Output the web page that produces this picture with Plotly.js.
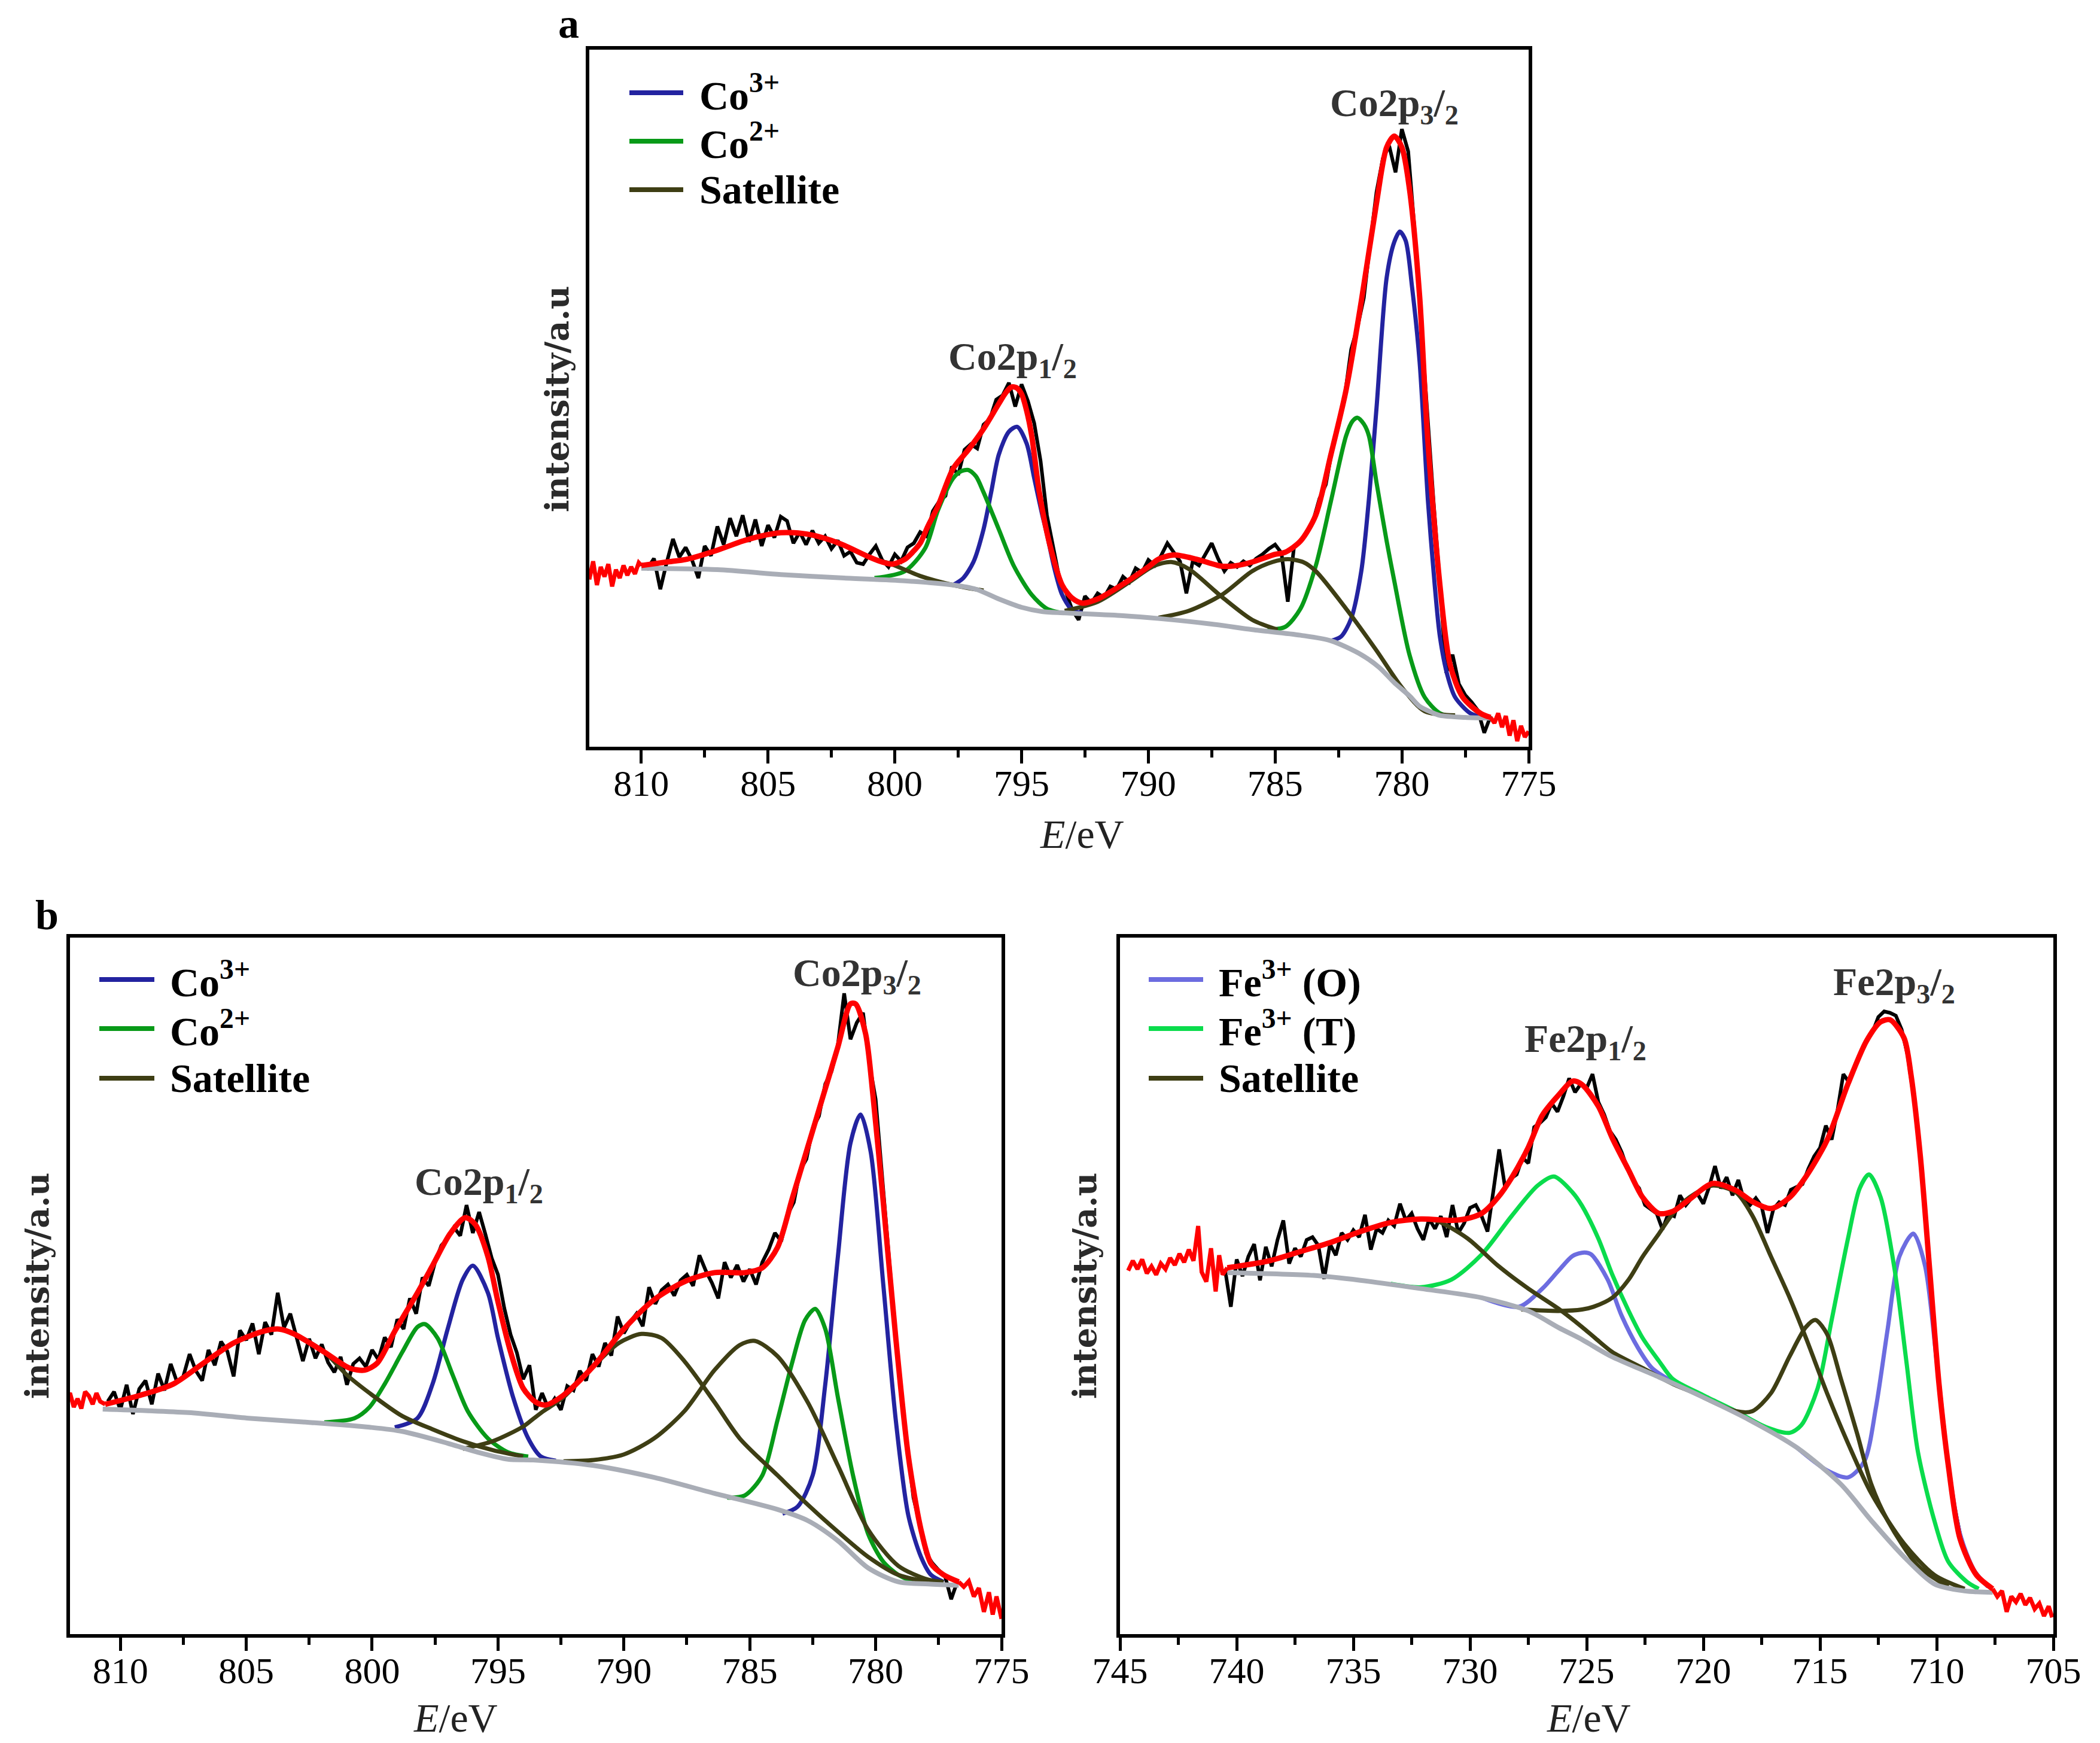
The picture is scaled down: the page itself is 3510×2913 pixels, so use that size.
<!DOCTYPE html>
<html><head><meta charset="utf-8">
<script src="https://cdn.plot.ly/plotly-3.0.1.min.js"></script>
<style>html,body{margin:0;padding:0;background:#fff}#chart{width:3510px;height:2913px}</style>
</head><body><div id="chart"></div>
<script>
// ================= DATA =================
// ---- Panel a : Co 2p ----
const aTicks = [810, 805, 800, 795, 790, 785, 780, 775];
const aTickText = ['810', '805', '800', '795', '790', '785', '780', '775'];
const aDataStart = 810.0, aDataStep = 0.25;
const aData = [26.2, 25.6, 27.0, 22.6, 26.4, 29.8, 27.2, 28.6, 26.8, 24.2,
  28.8, 27.4, 31.6, 29.0, 32.8, 30.2, 33.2, 29.4, 32.6, 28.8,
  31.8, 30.0, 33.0, 32.4, 29.2, 30.8, 29.0, 31.0, 29.2, 30.2,
  28.4, 29.6, 27.4, 28.0, 26.4, 26.2, 27.6, 28.8, 26.8, 25.8,
  27.6, 26.6, 28.6, 29.2, 30.8, 30.2, 33.8, 35.2, 36.0, 40.2,
  39.0, 42.6, 43.4, 42.8, 46.2, 47.0, 49.8, 50.4, 52.2, 48.8,
  52.0, 49.6, 46.4, 41.0, 33.2, 28.4, 24.0, 22.2, 19.6, 18.2,
  21.6, 20.6, 22.0, 21.4, 23.0, 22.6, 24.4, 23.6, 25.6, 25.0,
  26.8, 26.0, 27.4, 29.2, 27.8, 26.6, 22.0, 26.6, 26.0, 27.6,
  29.2, 27.0, 25.2, 26.4, 25.8, 26.6, 26.0, 27.0, 27.6, 28.4,
  29.0, 27.8, 20.8, 28.8, 29.4, 30.8, 32.4, 35.6, 37.6, 42.6,
  46.0, 50.4, 57.0, 60.2, 64.4, 72.2, 79.6, 84.4, 86.2, 82.4,
  88.6, 85.4, 74.2, 61.0, 47.4, 35.2, 23.4, 10.6, 13.2, 9.0,
  7.4, 6.4, 5.2, 2.0, 4.4];
const aRedLeftE = [812.05, 811.9, 811.75, 811.6, 811.45, 811.3, 811.15, 811.0, 810.85, 810.7, 810.55, 810.4, 810.25, 810.1, 810.0];
const aRedLeftI = [24.0, 26.6, 23.2, 25.8, 24.4, 26.2, 23.0, 25.4, 24.2, 26.0, 24.6, 25.8, 24.8, 26.4, 26.0];
const aRedRightE = [776.5, 776.35, 776.2, 776.05, 775.9, 775.75, 775.6, 775.45, 775.3, 775.15, 775.0];
const aRedRightI = [4.2, 3.4, 4.8, 2.8, 4.4, 1.6, 3.8, 0.8, 3.0, 1.4, 2.2];
const aFitE = [810, 809, 808.2, 807, 806, 805.3, 804.5, 804, 803.3, 802.5, 802, 801, 800.5, 800.1, 799.6, 799.3, 799, 798.7, 798.3, 797.7, 797.1, 796.5, 795.9, 795.6, 795.4, 795.2, 795.0, 794.8, 794.6, 794.3, 793.9, 793.4, 793.0, 792.6, 792.0, 791.5, 790.8, 790, 789.6, 789.0, 788.1, 787.1, 786.5, 785.9, 785, 784.6, 784.0, 783.4, 782.8, 782.2, 781.6, 781.0, 780.6, 780.3, 780.0, 779.7, 779.3, 779.0, 778.5, 778.1, 777.6, 776.9, 776.5];
const aFitI = [26.0, 26.5, 26.9, 28.2, 29.5, 30.2, 30.7, 30.7, 30.4, 29.6, 28.9, 27.2, 26.5, 26.2, 26.9, 27.9, 29.2, 31.6, 34.5, 39.9, 42.6, 45.6, 49.2, 50.9, 51.6, 51.5, 50.6, 48.2, 44.6, 36.5, 29.2, 23.2, 21.3, 20.6, 21.2, 22.2, 23.8, 25.8, 26.9, 27.5, 26.9, 25.9, 26.0, 26.5, 27.6, 27.9, 29.5, 33.2, 41.9, 51.2, 63.9, 78.0, 86.0, 87.6, 86.0, 80.0, 64.6, 45.2, 23.2, 11.8, 7.1, 4.8, 4.2];
const aBgE = [810, 807, 804.5, 802, 799.6, 797.7, 796.8, 795.9, 795.0, 794.2, 793.3, 791.0, 789.6, 787.5, 785.9, 784.0, 782.8, 781.6, 780.9, 780.3, 779.7, 779.3, 778.8, 778.5, 777.5, 776.5];
const aBgI = [25.6, 25.4, 24.7, 24.2, 23.8, 23.2, 22.6, 21.2, 20.0, 19.4, 19.2, 18.8, 18.4, 17.6, 16.8, 16.0, 15.2, 13.2, 11.4, 9.2, 7.3, 5.8, 4.9, 4.5, 4.2, 4.1];
const aCo3E = [797.7, 797.3, 796.9, 796.5, 796.2, 795.9, 795.5, 795.17, 794.8, 794.5, 794.2, 794.0, 793.7, 793.4, 793.0, 792.6, null, 782.8, 782.4, 782.0, 781.6, 781.3, 781.0, 780.6, 780.3, 780.08, 779.85, 779.6, 779.3, 778.97, 778.7, 778.5, 778.2, 777.9, 777.3, 776.8];
const aCo3I = [23.2, 24.2, 26.5, 31.2, 36.5, 41.9, 45.2, 45.9, 43.5, 38.5, 33.5, 30.5, 25.5, 21.8, 19.6, 19.2, null, 15.2, 15.8, 18.4, 25.2, 35.5, 48.6, 67.3, 72.4, 73.9, 72.6, 66.0, 55.2, 35.2, 23.0, 15.8, 10.2, 7.1, 4.8, 4.2];
const aCo2E = [800.8, 799.6, 798.8, 798.3, 797.7, 797.4, 797.1, 796.8, 796.5, 795.9, 795.3, 794.6, 794.0, 793.4, null, 785.3, 784.6, 784.0, 783.4, 782.8, 782.2, 781.95, 781.75, 781.5, 781.3, 781.0, 780.6, 780.3, 779.7, 779.1, 778.5, 777.9];
const aCo2I = [24.2, 25.2, 28.5, 33.9, 38.5, 39.5, 39.7, 38.8, 36.5, 31.2, 25.9, 21.8, 19.8, 19.2, null, 16.8, 17.2, 19.8, 25.9, 35.2, 44.6, 46.7, 47.2, 46.3, 44.6, 37.9, 29.5, 23.8, 13.2, 7.1, 4.8, 4.3];
const aSatE = [810, 808.2, 807, 805.7, 804.5, 803.3, 802, 800.8, 800.2, 799, 797.7, 796.5, null, 793.3, 792, 790.8, 789.8, 789.1, 788.4, 787.1, 785.9, 784.9, null, 789.6, 788.4, 787.1, 785.9, 785.1, 784.5, 783.9, 783.4, 782.2, 781.0, 780.0, 779.1, 777.9];
const aSatI = [26.0, 26.9, 28.2, 29.9, 30.7, 30.4, 28.9, 26.9, 26.3, 24.5, 23.2, 22.4, null, 19.5, 20.8, 23.5, 25.9, 26.5, 25.5, 21.5, 18.2, 16.8, null, 18.5, 19.5, 21.8, 25.2, 26.5, 26.9, 26.5, 25.2, 19.8, 13.8, 8.5, 5.1, 4.5];

// ---- Panel b (left) : Co 2p ----
const bTicks = [810, 805, 800, 795, 790, 785, 780, 775];
const bTickText = ['810', '805', '800', '795', '790', '785', '780', '775'];
const bDataStart = 810.5, bDataStep = 0.25;
const bData = [33.4, 34.8, 32.2, 35.8, 31.6, 35.2, 36.4, 33.0, 37.4, 35.0,
  38.8, 36.2, 37.0, 40.2, 37.8, 36.4, 40.8, 38.6, 42.0, 40.6,
  37.0, 43.6, 42.2, 44.6, 40.2, 44.8, 43.0, 49.0, 44.0, 46.0,
  42.6, 39.2, 42.4, 39.6, 41.6, 39.0, 37.6, 39.8, 35.8, 38.8,
  39.6, 38.4, 40.8, 39.4, 42.6, 41.2, 45.2, 43.8, 48.2, 46.0,
  51.2, 50.0, 53.4, 55.8, 56.8, 58.4, 57.2, 61.6, 57.6, 60.6,
  57.4, 54.0, 51.6, 46.8, 43.0, 40.4, 36.6, 38.6, 32.2, 34.6,
  32.4, 33.8, 32.2, 35.6, 35.0, 37.8, 36.4, 40.2, 38.4, 41.8,
  40.0, 45.6, 43.2, 44.8, 46.0, 44.2, 49.8, 47.4, 49.4, 50.2,
  48.6, 50.8, 51.6, 50.0, 54.4, 52.2, 50.4, 48.2, 53.4, 51.2,
  53.0, 50.6, 52.4, 50.2, 53.4, 55.2, 57.6, 56.4, 60.2, 62.0,
  66.6, 68.2, 72.6, 74.4, 79.0, 80.8, 84.6, 92.0, 85.4, 87.8,
  89.2, 82.0, 76.8, 66.2, 54.4, 44.6, 35.0, 27.2, 19.6, 15.8,
  11.6, 10.2, 9.2, 8.4, 5.0, 7.6];
const bRedLeftE = [812.2, 812.0, 811.85, 811.7, 811.55, 811.4, 811.25, 811.1, 810.95, 810.8, 810.6];
const bRedLeftI = [33.6, 34.6, 32.6, 33.8, 32.4, 34.8, 34.2, 33.0, 34.6, 33.4, 33.0];
const bRedRightE = [776.7, 776.5, 776.3, 776.1, 775.9, 775.7, 775.5, 775.35, 775.2, 775.0];
const bRedRightI = [7.5, 6.8, 7.6, 5.4, 6.6, 3.2, 6.0, 2.8, 5.4, 2.2];
const bFitE = [810.6, 809.2, 807.9, 806.7, 805.5, 804.3, 803.7, 803.1, 801.9, 800.9, 800.3, 799.8, 799.1, 798.2, 797.6, 796.9, 796.3, 795.9, 795.4, 795.0, 794.5, 794.0, 793.5, 793.1, 792.4, 791.2, 790.0, 788.8, 787.6, 786.4, 785.2, 784.5, 783.9, 783.3, 782.7, 782.1, 781.5, 781.0, 780.8, 780.4, 780.1, 779.7, 779.2, 778.7, 778.2, 777.8, 777.3, 776.7];
const bFitI = [33.0, 34.3, 35.9, 38.9, 41.8, 43.5, 43.8, 43.1, 40.5, 38.2, 37.9, 38.9, 43.5, 49.0, 52.9, 57.5, 59.8, 58.8, 54.2, 47.7, 40.5, 35.3, 33.3, 32.9, 34.3, 38.5, 43.8, 48.0, 50.6, 51.9, 51.9, 52.6, 55.5, 62.7, 69.9, 77.1, 84.3, 90.5, 90.5, 86.2, 77.1, 62.1, 42.5, 25.5, 15.0, 10.1, 8.5, 7.5];
const bBgE = [810.7, 807.3, 804.9, 802.5, 800.1, 798.8, 797.0, 795.8, 794.6, 793.6, 791.2, 788.8, 786.4, 783.9, 782.7, 781.5, 780.3, 779.1, 777.9, 776.7];
const bBgI = [32.3, 31.8, 31.0, 30.4, 29.7, 29.1, 27.4, 26.1, 25.1, 25.0, 24.2, 22.5, 20.2, 17.9, 16.3, 13.4, 9.5, 7.5, 7.2, 7.0];
const bCo3E = [799.1, 798.2, 797.6, 797.0, 796.4, 796.0, 795.4, 795.0, 794.4, 793.8, 793.3, 792.7, null, 783.7, 783.1, 782.5, 782.0, 781.5, 781.0, 780.6, 780.2, 779.7, 779.2, 778.7, 778.2, 777.8, 777.3];
const bCo3I = [29.7, 31.0, 35.9, 43.8, 50.9, 52.9, 49.0, 42.5, 34.0, 28.1, 25.5, 24.9, null, 17.3, 18.3, 22.8, 35.9, 54.2, 70.5, 74.6, 69.3, 50.3, 30.7, 17.0, 11.1, 8.5, 7.5];
const bCo2E = [801.9, 800.7, 800.1, 799.5, 798.8, 798.2, 797.9, 797.4, 796.8, 796.2, 795.4, 794.6, 793.8, null, 785.9, 785.2, 784.5, 783.9, 783.3, 782.8, 782.4, 782.0, 781.5, 780.9, 780.3, 779.7, 779.1, 778.5];
const bCo2I = [30.4, 31.0, 32.6, 35.9, 40.5, 44.1, 44.5, 42.5, 37.2, 32.0, 28.1, 26.1, 25.5, null, 19.6, 19.9, 22.8, 30.7, 39.2, 45.1, 46.7, 43.8, 34.0, 22.8, 14.4, 10.4, 8.5, 7.5];
const bSatE = [810.6, 809.2, 807.9, 806.7, 805.5, 804.3, 803.7, 803.1, 801.9, 801.0, 800.1, 798.8, 797.6, 796.4, 795.2, 794.0, null,
  796.4, 795.2, 794.0, 793.6, 793.2, 792.4, 791.2, 790.2, 789.3, 788.5, 787.6, 786.4, 785.4, 783.9, 782.7, 781.5, 780.3, 779.1, 777.9, null,
  792.4, 791.2, 790.0, 788.8, 787.6, 786.4, 785.4, 784.8, 783.9, 782.7, 781.5, 780.3, 779.1, 777.9, 777.3];
const bSatI = [33.0, 34.3, 35.9, 38.9, 41.8, 43.5, 43.8, 43.1, 40.5, 37.2, 34.6, 31.3, 29.4, 27.7, 26.4, 25.5, null,
  26.6, 27.7, 29.8, 30.9, 32.0, 34.0, 38.5, 41.8, 43.1, 42.5, 39.2, 33.3, 28.1, 22.8, 18.6, 14.7, 11.1, 8.5, 7.5, null,
  24.8, 25.0, 25.8, 28.1, 32.0, 37.9, 41.5, 42.1, 39.9, 33.3, 24.2, 15.0, 9.8, 7.8, 7.5];

// ---- Panel b (right) : Fe 2p ----
const cTicks = [745, 740, 735, 730, 725, 720, 715, 710, 705];
const cTickText = ['745', '740', '735', '730', '725', '720', '715', '710', '705'];
const cDataStart = 740.5, cDataStep = 0.25;
const cData = [52.4, 47.0, 53.8, 51.4, 54.2, 56.0, 50.8, 55.6, 52.8, 56.6,
  59.4, 53.2, 55.4, 54.2, 56.6, 57.0, 55.8, 51.0, 56.0, 54.4,
  57.6, 56.6, 58.0, 57.0, 60.2, 55.2, 58.2, 57.6, 59.4, 58.6,
  61.8, 59.4, 60.4, 58.2, 56.6, 59.6, 58.2, 60.0, 57.0, 61.6,
  57.6, 59.0, 61.2, 61.6, 60.0, 57.8, 63.6, 69.6, 64.2, 65.4,
  66.0, 68.4, 67.6, 72.8, 73.4, 74.2, 76.2, 75.0, 77.2, 79.8,
  77.8, 79.0, 78.4, 80.4, 76.4, 74.6, 72.2, 71.0, 69.2, 66.8,
  65.0, 64.0, 61.6, 61.0, 60.4, 58.1, 60.4, 60.0, 63.0, 61.6,
  62.6, 63.2, 61.8, 64.2, 67.2, 64.0, 65.6, 63.0, 65.2, 62.2,
  61.6, 62.6, 61.4, 57.6, 61.0, 62.0, 61.6, 63.8, 64.2, 64.6,
  66.8, 68.6, 69.8, 73.0, 71.0, 75.2, 80.4, 79.2, 81.6, 83.4,
  85.2, 86.4, 88.6, 89.4, 89.2, 88.8, 86.8, 83.2, 77.4, 70.6,
  60.8, 49.2, 39.4, 31.2, 24.0, 18.6, 14.4, 11.6, 9.6, 8.4,
  7.6, 6.8];
const cRedLeftE = [744.65, 744.45, 744.25, 744.05, 743.85, 743.65, 743.45, 743.25, 743.05, 742.85, 742.65, 742.45, 742.25, 742.05, 741.85, 741.65, 741.5, 741.3, 741.1, 740.9, 740.75, 740.6, 740.4];
const cRedLeftI = [52.2, 53.6, 52.4, 53.8, 51.8, 52.8, 51.6, 53.2, 52.4, 54.0, 53.0, 54.6, 53.4, 55.2, 53.6, 58.6, 52.0, 50.6, 55.4, 49.2, 54.4, 51.6, 52.6];
const cRedRightE = [707.6, 707.4, 707.2, 707.0, 706.8, 706.6, 706.4, 706.2, 706.0, 705.8, 705.6, 705.4, 705.2, 705.05];
const cRedRightI = [6.5, 5.4, 6.2, 3.2, 5.4, 4.6, 5.8, 4.2, 5.2, 3.6, 4.4, 2.6, 4.0, 2.4];
const cFitE = [740.4, 738.6, 737.3, 736.0, 734.7, 733.4, 732.1, 730.8, 730.2, 729.5, 728.8, 728.2, 727.5, 726.9, 726.2, 725.6, 725.2, 724.5, 723.9, 723.2, 722.6, 721.9, 721.3, 720.6, 719.6, 718.6, 717.9, 717.1, 716.3, 715.6, 714.7, 713.8, 713.0, 712.4, 712.0, 711.4, 711.1, 710.7, 710.3, 709.9, 709.5, 709.0, 708.3, 707.6];
const cFitI = [52.6, 53.6, 54.9, 56.2, 57.8, 59.1, 59.6, 59.4, 59.6, 60.4, 62.7, 65.6, 69.9, 74.5, 77.4, 79.4, 78.9, 75.8, 71.2, 66.6, 62.7, 60.4, 60.7, 62.4, 64.7, 63.7, 62.1, 61.1, 62.7, 65.7, 70.9, 79.0, 85.2, 87.9, 88.2, 85.6, 80.3, 68.6, 52.3, 35.9, 24.2, 13.7, 8.5, 6.5];
const cBgE = [740.4, 736.7, 734.7, 732.1, 729.5, 727.5, 726.2, 725.2, 724.7, 723.9, 721.9, 720.0, 718.0, 716.0, 714.1, 712.8, 711.4, 710.1, 708.8, 707.6];
const cBgI = [51.9, 51.5, 50.8, 49.6, 48.3, 46.4, 44.0, 42.3, 41.3, 39.8, 36.9, 34.0, 30.7, 26.8, 21.5, 16.3, 11.1, 7.2, 6.2, 6.0];
const cFeOE = [729.5, 727.9, 726.9, 726.2, 725.6, 725.1, 724.8, 724.1, 723.5, 722.8, 722.2, 721.3, 720.0, null, 716.0, 714.7, 713.8, 713.1, 712.6, 712.1, 711.6, 711.0, 710.5, 710.0, 709.5, 709.0, 708.4, 707.8];
const cFeOI = [48.3, 47.0, 49.6, 52.2, 54.3, 54.8, 54.5, 50.9, 45.7, 41.1, 38.2, 36.2, 34.0, null, 26.8, 23.5, 22.5, 24.8, 32.6, 43.8, 54.2, 57.5, 52.9, 39.2, 24.2, 14.4, 9.2, 6.8];
const cFeTE = [733.4, 732.1, 730.8, 729.5, 728.2, 727.1, 726.4, 725.6, 725.2, 724.5, 723.9, 723.2, 722.6, 721.9, 721.3, 720.0, 718.6, 717.3, 716.3, 715.8, 715.1, 714.5, 713.8, 713.3, 712.9, 712.4, 711.8, 711.3, 710.8, 710.1, 709.5, 708.7, 708.2];
const cFeTI = [50.3, 49.8, 50.9, 54.5, 60.1, 64.4, 65.7, 63.4, 61.5, 56.8, 51.6, 46.4, 42.5, 39.2, 36.6, 34.3, 32.0, 29.7, 28.9, 30.0, 35.3, 45.1, 56.8, 64.0, 66.0, 62.7, 52.3, 39.2, 26.1, 16.3, 10.4, 7.5, 6.5];
const cSatE = [740.4, 738.6, 737.3, 736.0, 734.7, 733.4, 732.1, 731.4, 730.1, 728.8, 727.5, 726.2, 725.2, 724.6, 723.9, 722.6, 721.3, 720.5, null,
  727.8, 726.2, 725.2, 724.7, 723.9, 723.2, 722.6, 721.9, 721.3, 720.6, 719.6, 718.6, 717.9, 717.1, 716.3, 715.6, 714.7, 713.8, 712.8, 711.4, 710.1, 708.8, null,
  720.0, 718.6, 717.9, 717.1, 716.3, 715.6, 715.2, 714.7, 714.1, 713.4, 712.8, 712.1, 710.8, 709.5];
const cSatI = [52.6, 53.6, 54.9, 56.2, 57.8, 59.1, 59.6, 59.3, 56.8, 52.9, 49.6, 46.7, 44.1, 42.4, 40.5, 38.2, 35.9, 34.8, null,
  46.6, 46.4, 46.6, 47.0, 48.3, 50.9, 54.2, 57.5, 60.4, 62.7, 64.4, 63.4, 60.1, 54.2, 48.3, 42.5, 34.6, 27.4, 20.2, 13.0, 8.5, 6.5, null,
  34.0, 32.0, 32.0, 34.6, 39.9, 44.1, 45.1, 43.1, 36.6, 28.7, 21.5, 16.3, 9.8, 6.8];

// ================= STYLE =================
const COL = {data:'#000000', fit:'#ff0000', bg:'#a9adb6', co3:'#2323a0', co2:'#089a18', sat:'#3e3e14', feO:'#6c6ce0', feT:'#0adc4c'};
const W = 3510, H = 2913;
const FONT = 'Liberation Serif';

function grid(start, step, n){ const g=[]; for(let i=0;i<n;i++) g.push(+(start - i*step).toFixed(3)); return g; }
function tr(x, y, ax, color, width, shape){
  return {type:'scatter', mode:'lines', x:x, y:y, xaxis:'x'+ax, yaxis:'y'+ax,
    line:{color:color, width:width, shape:shape||'linear', smoothing:0.8}, connectgaps:false, showlegend:false, hoverinfo:'skip'};
}

const traces = [];
function panel(ax, dStart, dStep, dVals, rl, rr, fit, bg, comps){
  traces.push(tr(grid(dStart, dStep, dVals.length), dVals, ax, COL.data, 6));
  comps.forEach(c => traces.push(tr(c[0], c[1], ax, c[2], 7, 'spline')));
  traces.push(tr(bg[0], bg[1], ax, COL.bg, 8, 'spline'));
  traces.push(tr(rl[0], rl[1], ax, COL.fit, 7));
  traces.push(tr(fit[0], fit[1], ax, COL.fit, 9, 'spline'));
  traces.push(tr(rr[0], rr[1], ax, COL.fit, 7));
}
panel('', aDataStart, aDataStep, aData, [aRedLeftE,aRedLeftI], [aRedRightE,aRedRightI], [aFitE,aFitI], [aBgE,aBgI],
  [[aCo3E,aCo3I,COL.co3],[aCo2E,aCo2I,COL.co2],[aSatE,aSatI,COL.sat]]);
panel('2', bDataStart, bDataStep, bData, [bRedLeftE,bRedLeftI], [bRedRightE,bRedRightI], [bFitE,bFitI], [bBgE,bBgI],
  [[bCo3E,bCo3I,COL.co3],[bCo2E,bCo2I,COL.co2],[bSatE,bSatI,COL.sat]]);
panel('3', cDataStart, cDataStep, cData, [cRedLeftE,cRedLeftI], [cRedRightE,cRedRightI], [cFitE,cFitI], [cBgE,cBgI],
  [[cFeOE,cFeOI,COL.feO],[cFeTE,cFeTI,COL.feT],[cSatE,cSatI,COL.sat]]);

function xax(dom, range, tv, tt, anchor){
  return {domain:dom, range:range, anchor:anchor, showline:true, mirror:true, linecolor:'#000', linewidth:6,
    tickmode:'array', tickvals:tv, ticktext:tt, ticks:'outside', ticklen:22, tickwidth:5, tickcolor:'#000',
    minor:{tick0:tv[tv.length-1], dtick:2.5, ticks:'outside', ticklen:12, tickwidth:5, tickcolor:'#000', showgrid:false},
    tickfont:{family:FONT, size:62, color:'#000'}, showgrid:false, zeroline:false, fixedrange:true};
}
function yax(dom, anchor){
  return {domain:dom, range:[0,100], anchor:anchor, showline:true, mirror:true, linecolor:'#000', linewidth:6,
    ticks:'', showticklabels:false, showgrid:false, zeroline:false, fixedrange:true};
}
const px = v => v/W, py = v => 1 - v/H;

const layout = {
  width:W, height:H, margin:{l:0,r:0,t:0,b:0}, paper_bgcolor:'#fff', plot_bgcolor:'#fff', showlegend:false,
  xaxis: xax([px(985), px(2555)], [812.05, 775], aTicks, aTickText, 'y'),
  yaxis: yax([py(1248), py(83)], 'x'),
  xaxis2: xax([px(117), px(1674)], [812.0, 775], bTicks, bTickText, 'y2'),
  yaxis2: yax([py(2731), py(1567)], 'x2'),
  xaxis3: xax([px(1872), px(3432)], [745, 705], cTicks, cTickText, 'y3'),
  yaxis3: yax([py(2731), py(1567)], 'x3'),
  shapes:[], annotations:[]
};

function legend(x0, x1, tx, ys, names, colors){
  names.forEach((n,i)=>{
    layout.shapes.push({type:'line', xref:'paper', yref:'paper', x0:px(x0), x1:px(x1), y0:py(ys[i]), y1:py(ys[i]), line:{color:colors[i], width:8}});
    layout.annotations.push({xref:'paper', yref:'paper', x:px(tx), y:py(ys[i]), xanchor:'left', yanchor:'middle', showarrow:false,
      text:n, font:{family:FONT, size:68, color:'#000', weight:'bold'}});
  });
}
legend(1052, 1142, 1167, [155, 236, 317], ['Co<sup>3+</sup>', 'Co<sup>2+</sup>', 'Satellite'], [COL.co3, COL.co2, COL.sat]);
legend(166, 258, 282, [1637, 1719, 1802], ['Co<sup>3+</sup>', 'Co<sup>2+</sup>', 'Satellite'], [COL.co3, COL.co2, COL.sat]);
legend(1920, 2011, 2035, [1637, 1719, 1802], ['Fe<sup>3+</sup> (O)', 'Fe<sup>3+</sup> (T)', 'Satellite'], [COL.feO, COL.feT, COL.sat]);

function label(x, y, text, opts){
  layout.annotations.push(Object.assign({xref:'paper', yref:'paper', x:px(x), y:py(y), xanchor:'center', yanchor:'middle', showarrow:false, text:text,
    font:{family:FONT, size:66, color:'#333', weight:'bold'}}, opts||{}));
}
label(1692, 600, 'Co2p<sub>1</sub>/<sub>2</sub>');
label(2330, 176, 'Co2p<sub>3</sub>/<sub>2</sub>');
label(800, 1979, 'Co2p<sub>1</sub>/<sub>2</sub>');
label(1432, 1630, 'Co2p<sub>3</sub>/<sub>2</sub>');
label(2650, 1740, 'Fe2p<sub>1</sub>/<sub>2</sub>');
label(3166, 1645, 'Fe2p<sub>3</sub>/<sub>2</sub>');
// panel letters
label(951, 40, 'a', {font:{family:FONT, size:70, color:'#000', weight:'bold'}});
label(78, 1529, 'b', {font:{family:FONT, size:70, color:'#000', weight:'bold'}});
// axis titles
const yt = {family:'DejaVu Serif', size:54, color:'#2a2a2a', weight:'bold'};
label(931, 667, 'intensity/a.u', {textangle:-90, font:yt});
label(62, 2149, 'intensity/a.u', {textangle:-90, font:yt});
label(1813, 2149, 'intensity/a.u', {textangle:-90, font:yt});
const xt = {family:FONT, size:68, color:'#222'};
label(1809, 1394, '<i>E</i>/eV', {font:xt});
label(761, 2871, '<i>E</i>/eV', {font:xt});
label(2655, 2871, '<i>E</i>/eV', {font:xt});

Plotly.newPlot('chart', traces, layout, {staticPlot:true, displayModeBar:false}).then(()=>{
  // lift tick labels closer to the axis, as in the reference
  document.querySelectorAll('.xtick text, .x2tick text, .x3tick text').forEach(t=>{
    const y = parseFloat(t.getAttribute('y')||'0');
    t.setAttribute('y', (y - 20).toString());
  });
});
</script>
</body></html>
